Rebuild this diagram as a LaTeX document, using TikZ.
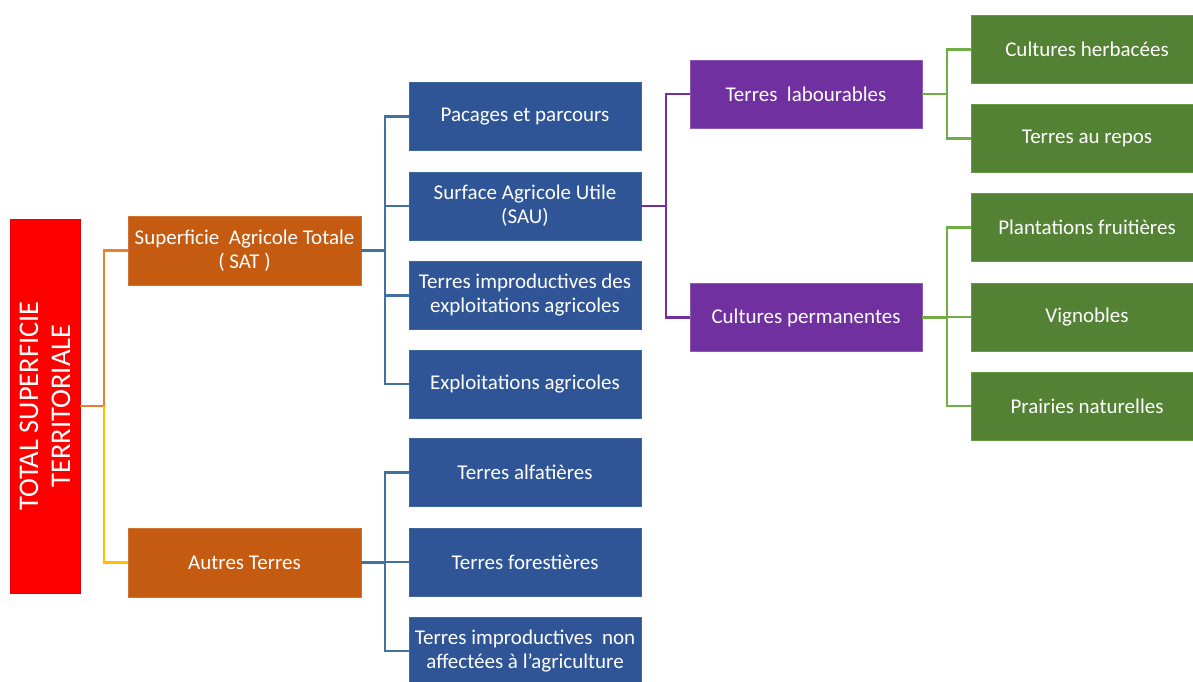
\documentclass[tikz,border=0pt]{standalone}
\usepackage{fontspec}
\setmainfont{Carlito}
\definecolor{cred}{HTML}{FF0000}
\definecolor{cora}{HTML}{C55A11}
\definecolor{cblue}{HTML}{2F5597}
\definecolor{cpur}{HTML}{7030A0}
\definecolor{cgre}{HTML}{548235}
\definecolor{lora}{HTML}{ED7D31}
\definecolor{lyel}{HTML}{FFC000}
\definecolor{lblue}{HTML}{41719C}
\definecolor{lgre}{HTML}{70AD47}
\begin{document}
\begin{tikzpicture}[x=1pt,y=-1pt,
  box/.style={rectangle,inner sep=0pt,outer sep=0pt,minimum width=232pt,minimum height=68pt,
    text=white,align=center,font=\fontsize{21}{24}\selectfont,line width=1pt},
  orabox/.style={box,fill=cora,draw=cora!85!white,minimum width=233pt,minimum height=69pt},
  bluebox/.style={box,fill=cblue,draw=lblue!70!cblue},
  purbox/.style={box,fill=cpur,draw=cpur!80!white},
  grebox/.style={box,fill=cgre,draw=lgre!60!cgre},
  conn/.style={line width=2.2pt}]
\useasboundingbox (0,0) rectangle (1193,681);
% root
\node[rectangle,fill=cred,draw=cred!90!black,line width=0.8pt,minimum width=374pt,minimum height=70pt,inner sep=0pt,
  rotate=90,text=white,align=center,font=\fontsize{28.5}{32}\selectfont] (total) at (45,406)
  {TOTAL SUPERFICIE\\TERRITORIALE};
% level 1
\node[orabox] (sat) at (244.5,250.5) {Superficie\ \ Agricole Totale\\( SAT )};
\node[orabox] (aut) at (244.5,562.5) {Autres Terres};
% level 2
\node[bluebox] (pac) at (525,116.5) {Pacages et parcours};
\node[bluebox] (sau) at (525,206) {Surface Agricole Utile\\(SAU)};
\node[bluebox] (imp) at (525,295.5) {Terres improductives des\\exploitations agricoles};
\node[bluebox] (exp) at (525,384) {Exploitations agricoles};
\node[bluebox] (alf) at (525,472.5) {Terres alfatières};
\node[bluebox] (for) at (525,562) {Terres forestières};
\node[bluebox] (imq) at (525,651) {Terres improductives\ \ non\\affectées à l’agriculture};
% level 3
\node[purbox] (lab) at (806,94) {Terres\ \ labourables};
\node[purbox] (per) at (806,317.5) {Cultures permanentes};
% level 4
\node[grebox] (her) at (1087,49.5) {Cultures herbacées};
\node[grebox] (rep) at (1087,138.5) {Terres au repos};
\node[grebox] (pla) at (1087,227.5) {Plantations fruitières};
\node[grebox] (vig) at (1087,317) {Vignobles};
\node[grebox] (pra) at (1087,406) {Prairies naturelles};
% junctions
\coordinate (j1) at (104,406);
\coordinate (j2) at (385,250.5);
\coordinate (j3) at (385,562.5);
\coordinate (j4) at (666,206);
\coordinate (j5) at (947,94);
\coordinate (j6) at (947,317.5);
% connectors
\draw[conn,lora] (total.south) -- (j1) |- (sat.west);
\draw[conn,lyel] (j1) |- (aut.west);
\draw[conn,lblue] (sat.east) -- (j2);
\foreach \t in {pac,sau,imp,exp} \draw[conn,lblue] (j2) |- (\t.west);
\draw[conn,lblue] (aut.east) -- (j3);
\foreach \t in {alf,for,imq} \draw[conn,lblue] (j3) |- (\t.west);
\draw[conn,cpur] (sau.east) -- (j4);
\foreach \t in {lab,per} \draw[conn,cpur] (j4) |- (\t.west);
\draw[conn,lgre] (lab.east) -- (j5);
\foreach \t in {her,rep} \draw[conn,lgre] (j5) |- (\t.west);
\draw[conn,lgre] (per.east) -- (j6);
\foreach \t in {pla,vig,pra} \draw[conn,lgre] (j6) |- (\t.west);
\end{tikzpicture}
\end{document}
